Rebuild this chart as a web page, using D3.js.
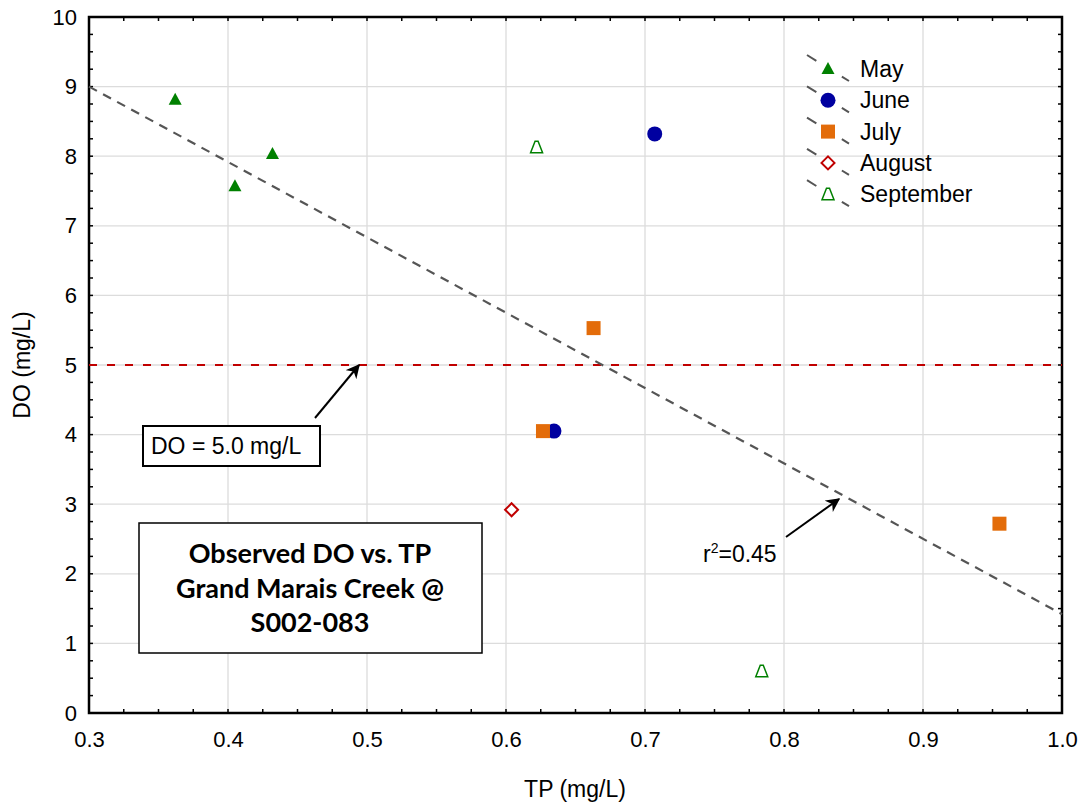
<!DOCTYPE html>
<html><head><meta charset="utf-8">
<script src="https://cdn.jsdelivr.net/npm/d3@7"></script>
<style>body{margin:0;background:#fff}svg{display:block}text{font-family:"Liberation Sans",Arial,sans-serif}</style>
</head><body><svg id="c" width="1082" height="804"></svg>
<script>
const months = ["May","June","July","August","September"];
const mayTP = [0.362,0.405,0.432], mayDO = [8.81,7.57,8.03];
const juneTP = [0.707,0.6345], juneDO = [8.32,4.05];
const julyTP = [0.663,0.6266,0.955], julyDO = [5.53,4.05,2.72];
const augTP = [0.604], augDO = [2.92];
const sepTP = [0.622,0.784], sepDO = [8.13,0.60];
const xTicks = [0.3,0.4,0.5,0.6,0.7,0.8,0.9,1.0];
const yTicks = [0,1,2,3,4,5,6,7,8,9,10];
const trendX = [0.3,1.0], trendY = [9.0,1.42];
const refDO = 5.0;
const r2Label = "0.45";
const titleLines = ["Observed DO vs. TP","Grand Marais Creek @","S002-083"];

const svg = d3.select("#c");
const L=89,R=1062,T=17,B=713;
const x = d3.scaleLinear().domain([0.3,1.0]).range([L,R]);
const y = d3.scaleLinear().domain([0,10]).range([B,T]);

// grid
const g = svg.append("g");
g.selectAll(".gx").data(xTicks.slice(1,-1)).join("line").attr("x1",d=>x(d)).attr("x2",d=>x(d)).attr("y1",T).attr("y2",B).attr("stroke","#dcdcdc").attr("stroke-width",1.3);
g.selectAll(".gy").data(yTicks.slice(1,-1)).join("line").attr("y1",d=>y(d)).attr("y2",d=>y(d)).attr("x1",L).attr("x2",R).attr("stroke","#dcdcdc").attr("stroke-width",1.3);

// axes with inside ticks
const xMinor = d3.range(0.3,1.0001,0.025);
const yMinor = d3.range(0,10.001,0.25);
const ax = svg.append("g").attr("transform",`translate(0,${B})`).call(d3.axisBottom(x).tickValues(xTicks).tickFormat(d3.format(".1f")).tickSize(0).tickPadding(18));
ax.select(".domain").remove();
ax.selectAll("text").attr("font-size",22).attr("fill","#000");
const ay = svg.append("g").attr("transform",`translate(${L},0)`).call(d3.axisLeft(y).tickValues(yTicks).tickFormat(d3.format("d")).tickSize(0).tickPadding(12));
ay.select(".domain").remove();
ay.selectAll("text").attr("font-size",22).attr("fill","#000");

const tk = svg.append("g").attr("stroke","#000").attr("stroke-width",1.5);
xMinor.forEach(v=>{
  tk.append("line").attr("x1",x(v)).attr("x2",x(v)).attr("y1",B).attr("y2",B-4);
  tk.append("line").attr("x1",x(v)).attr("x2",x(v)).attr("y1",T).attr("y2",T+4);
});
yMinor.forEach(v=>{
  tk.append("line").attr("y1",y(v)).attr("y2",y(v)).attr("x1",L).attr("x2",L+4);
  tk.append("line").attr("y1",y(v)).attr("y2",y(v)).attr("x1",R).attr("x2",R-4);
});
svg.append("rect").attr("x",L).attr("y",T).attr("width",R-L).attr("height",B-T).attr("fill","none").attr("stroke","#000").attr("stroke-width",2.5);

// reference line
svg.append("line").attr("x1",L).attr("x2",R).attr("y1",y(refDO)).attr("y2",y(refDO)).attr("stroke","#c00000").attr("stroke-width",2).attr("stroke-dasharray","8,10");
// trend line
svg.append("line").attr("x1",x(trendX[0])).attr("y1",y(trendY[0])).attr("x2",x(trendX[1])).attr("y2",y(trendY[1])).attr("stroke","#555").attr("stroke-width",2.2).attr("stroke-dasharray","9,7");

// markers
function shape(sel, type){
  if(type==="May"){ sel.append("path").attr("d","M0,-7L6.5,5L-6.5,5Z").attr("fill","#008000"); }
  else if(type==="June"){ sel.append("circle").attr("r",7.5).attr("fill","#0000a0"); }
  else if(type==="July"){ sel.append("rect").attr("x",-7).attr("y",-7).attr("width",14).attr("height",14).attr("fill","#e36c0a"); }
  else if(type==="August"){ sel.append("path").attr("d","M0,-6.5L6.5,0L0,6.5L-6.5,0Z").attr("fill","#fff").attr("stroke","#c00000").attr("stroke-width",2); }
  else { sel.append("path").attr("d","M-1.5,-6L1.5,-6L6,5.5L-6,5.5Z").attr("fill","#fff").attr("stroke","#008000").attr("stroke-width",1.5); }
}
const series = [["May",mayTP,mayDO],["June",juneTP,juneDO],["July",julyTP,julyDO],["August",augTP,augDO],["September",sepTP,sepDO]];
series.forEach(([m,xs,ys])=>{
  xs.forEach((v,i)=>{ const gg=svg.append("g").attr("transform",`translate(${x(v)},${y(ys[i])})`); shape(gg,m); });
});

// legend
months.forEach((m,i)=>{
  const cy = 69 + i*31.3;
  const lg = svg.append("g").attr("transform",`translate(0,${cy})`);
  lg.append("line").attr("x1",807).attr("y1",-14).attr("x2",849).attr("y2",12).attr("stroke","#555").attr("stroke-width",2).attr("stroke-dasharray","11,30");
  const mk = lg.append("g").attr("transform","translate(828,0)"); shape(mk,m);
  lg.append("text").attr("x",860).attr("y",8).attr("font-size",23).text(m);
});

// DO annotation
svg.append("rect").attr("x",143).attr("y",426).attr("width",177).attr("height",40).attr("fill","#fff").attr("stroke","#000").attr("stroke-width",2);
svg.append("text").attr("x",151).attr("y",454).attr("font-size",23).text(`DO = ${refDO.toFixed(1)} mg/L`);
svg.append("defs").append("marker").attr("id","ah").attr("viewBox","0 0 10 10").attr("refX",9).attr("refY",5).attr("markerWidth",7).attr("markerHeight",7).attr("orient","auto")
  .append("path").attr("d","M0,0L10,5L0,10L3,5Z").attr("fill","#000");
svg.append("line").attr("x1",315).attr("y1",418).attr("x2",359).attr("y2",365).attr("stroke","#000").attr("stroke-width",2).attr("marker-end","url(#ah)");

// r2 annotation
const rt = svg.append("text").attr("x",703).attr("y",562).attr("font-size",23);
rt.append("tspan").text("r");
rt.append("tspan").attr("dy",-9).attr("font-size",14).text("2");
rt.append("tspan").attr("dy",9).text("=" + r2Label);
svg.append("line").attr("x1",786).attr("y1",537).attr("x2",839).attr("y2",499).attr("stroke","#000").attr("stroke-width",2).attr("marker-end","url(#ah)");

// title box
svg.append("rect").attr("x",139).attr("y",523).attr("width",343).attr("height",130).attr("fill","#fff").attr("stroke","#000").attr("stroke-width",1.5);
titleLines.forEach((t,i)=>{
  svg.append("text").attr("x",310).attr("y",563+i*34.5).attr("text-anchor","middle").attr("font-size",27).attr("font-weight","bold").style("font-family","Lato, 'Open Sans', sans-serif").text(t);
});

// axis titles
svg.append("text").attr("x",575).attr("y",797).attr("text-anchor","middle").attr("font-size",23).text("TP (mg/L)");
svg.append("text").attr("transform","translate(30,365) rotate(-90)").attr("text-anchor","middle").attr("font-size",23).text("DO (mg/L)");
</script></body></html>
